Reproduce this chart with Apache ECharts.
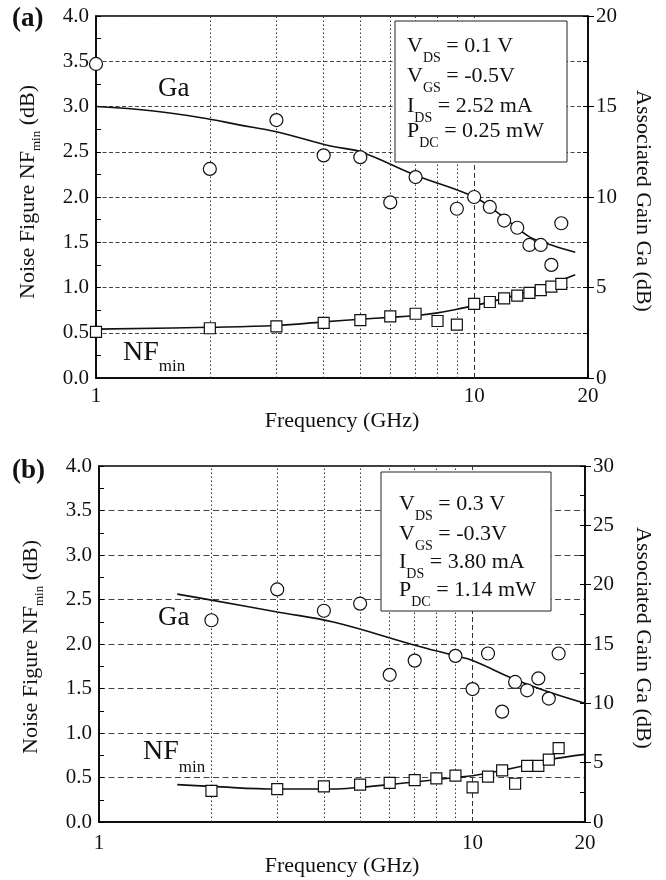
<!DOCTYPE html>
<html>
<head>
<meta charset="utf-8">
<script src="https://cdn.jsdelivr.net/npm/echarts@6/dist/echarts.min.js"></script>
<style>html,body{margin:0;padding:0;background:#fff}#c{width:666px;height:880px}</style>
</head>
<body>
<div id="c"></div>
<script>
// ---------- data (panel a) ----------
const nfFreqA = [1,2,3,4,5,6,7,8,9,10,11,12,13,14,15,16,17];
const nfA     = [0.51,0.55,0.57,0.61,0.64,0.68,0.71,0.63,0.59,0.82,0.84,0.88,0.91,0.94,0.97,1.01,1.04];
const gaFreqA = [1,2,3,4,5,6,7,9,10,11,12,13,14,15,16,17];
const gaA     = [17.35,11.55,14.25,12.3,12.2,9.7,11.1,9.35,10.0,9.45,8.7,8.3,7.35,7.35,6.25,8.55];
const nfFitFreqA = [1,2,3,4,5,6,7,8,9,10,12,14,16,18.5];
const nfFitA     = [0.54,0.56,0.58,0.62,0.65,0.67,0.69,0.72,0.76,0.80,0.88,0.96,1.04,1.14];
const gaFitFreqA = [1,1.42,2,2.37,3,4.2,5,7,10,11.6,14,16,18.5];
const gaFitA     = [15.0,14.75,14.3,14.0,13.6,12.8,12.5,11.2,10.0,9.1,7.8,7.35,6.95];
// ---------- data (panel b) ----------
const nfFreqB = [2,3,4,5,6,7,8,9,10,11,12,13,14,15,16,17];
const nfB     = [0.35,0.37,0.40,0.42,0.44,0.47,0.49,0.52,0.39,0.51,0.58,0.43,0.63,0.63,0.70,0.83];
const gaFreqB = [2,3,4,5,6,7,9,10,11,12,13,14,15,16,17];
const gaB     = [17.0,19.6,17.8,18.4,12.4,13.6,14.0,11.2,14.2,9.3,11.8,11.1,12.1,10.4,14.2];
const nfFitFreqB = [1.62,2,3,4.24,5,6,7,9,10,12,14,16,20];
const nfFitB     = [0.42,0.40,0.37,0.37,0.39,0.42,0.45,0.50,0.52,0.58,0.64,0.70,0.76];
const gaFitFreqB = [1.62,2,3,4.24,7,9,10,13,16,20];
const gaFitB     = [19.2,18.7,17.7,16.85,14.9,14.0,13.6,12.0,10.95,10.0];
// ---------- axes ----------
const nfTicks = [0,0.5,1,1.5,2,2.5,3,3.5,4];
const gaMaxA = 20, gaMaxB = 30;
const xMin = 1, xMax = 20;
const gridFreqs = [2,3,4,5,6,7,8,9];

const FONT = '"Liberation Serif","Times New Roman",serif';
const zip = (a,b) => a.map((v,i)=>[v,b[i]]);

const ctx = document.createElement('canvas').getContext('2d');
function tw(s, size, weight){ ctx.font = (weight||'normal')+' '+size+'px "Liberation Serif"'; return ctx.measureText(s).width; }
function lineParts(parts, M, S, dy, z){
  const ch=[]; let cx=0;
  parts.forEach(p=>{
    const sub=p[1]; const size = sub?S:M;
    ch.push({type:'text', x:cx, y: sub?dy:0, silent:true, z:z||5,
      style:{text:p[0], font: size+'px '+FONT, fill:'#111', verticalAlign:'middle', align:'left'}});
    cx += tw(p[0], size);
  });
  return {children:ch, width:cx};
}
function textLine(x,y,parts,M,S,dy,z){
  const r=lineParts(parts,M,S,dy,z);
  return {type:'group', x:x, y:y, children:r.children};
}
function vTitle(xc, yc, parts, M, S, dy, dir){
  const r=lineParts(parts,M,S,dy);
  const L=r.width;
  return {type:'group', x:xc, y: dir>0 ? yc+L/2 : yc-L/2, rotation: dir>0?Math.PI/2:-Math.PI/2, children:r.children};
}

function makeX(gridIndex){
  return {type:'log', logBase:10, min:xMin, max:xMax, gridIndex:gridIndex,
    axisLine:{show:true, lineStyle:{color:'#000', width:1.5}},
    axisTick:{show:true, inside:true, length:5, lineStyle:{color:'#000'}},
    axisLabel:{color:'#111', fontFamily:FONT, fontSize:21, margin: gridIndex===0?8:11},
    splitLine:{show:false}, minorTick:{show:false},
    name:'Frequency (GHz)', nameLocation:'middle', nameGap: gridIndex===0?32:29,
    nameTextStyle:{color:'#111', fontFamily:FONT, fontSize:22}};
}
function makeLeft(gridIndex, dash){
  return {type:'value', gridIndex:gridIndex, position:'left', min:0, max:4, interval:0.5,
    axisLine:{show:true, lineStyle:{color:'#000', width:1.5}},
    axisTick:{show:true, inside:true, length:5, lineStyle:{color:'#000'}},
    minorTick:{show:true, splitNumber:2, length:5, lineStyle:{color:'#000'}},
    axisLabel:{color:'#111', fontFamily:FONT, fontSize:21, margin:7, formatter:v=>v.toFixed(1)},
    splitLine:{show:true, lineStyle:{color:'#444', width:1, type:dash}}};
}
function makeRight(gridIndex, max){
  return {type:'value', gridIndex:gridIndex, position:'right', min:0, max:max, interval:5,
    axisLine:{show:true, lineStyle:{color:'#000', width:1.5}},
    axisTick:{show:true, inside:false, length:6, lineStyle:{color:'#000'}},
    axisLabel:{color:'#111', fontFamily:FONT, fontSize:21, margin:8},
    splitLine:{show:false}};
}
function makeRightMinor(gridIndex, max){
  return {type:'value', gridIndex:gridIndex, position:'right', min:0, max:max, interval:2.5,
    axisLine:{show:false}, axisTick:{show:true, inside:true, length:5, lineStyle:{color:'#000'}},
    axisLabel:{show:false}, splitLine:{show:false}};
}
function vGrid(){
  const d = gridFreqs.map(f=>({xAxis:f, lineStyle:{type:[1.5,2.5], color:'#333', width:1}}));
  d.push({xAxis:10, lineStyle:{type:[5,3], color:'#333', width:1}});
  return {symbol:['none','none'], silent:true, label:{show:false}, animation:false, data:d};
}
function scat(xi, yi, data, sym, size){
  return {type:'scatter', xAxisIndex:xi, yAxisIndex:yi, data:data, symbol:sym, symbolSize:size,
    itemStyle:{color:'#fff', borderColor:'#111', borderWidth:1.2, opacity:1}, z:6, silent:true};
}
function fit(xi, yi, data){
  return {type:'line', xAxisIndex:xi, yAxisIndex:yi, data:data, smooth:0.4, showSymbol:false,
    lineStyle:{color:'#111', width:1.6}, z:3, silent:true};
}

const graphics = [];
// panel labels
graphics.push({type:'text', x:12, y:19, style:{text:'(a)', font:'bold 27px '+FONT, fill:'#111', verticalAlign:'middle'}});
graphics.push({type:'text', x:12, y:471, style:{text:'(b)', font:'bold 27px '+FONT, fill:'#111', verticalAlign:'middle'}});
// curve labels
graphics.push({type:'text', x:158, y:89, style:{text:'Ga', font:'27px '+FONT, fill:'#111', verticalAlign:'middle'}});
graphics.push(textLine(123, 352.5, [['NF',0],['min',1]], 28, 17, 14.5));
graphics.push({type:'text', x:158, y:618, style:{text:'Ga', font:'27px '+FONT, fill:'#111', verticalAlign:'middle'}});
graphics.push(textLine(143, 751.5, [['NF',0],['min',1]], 28, 17, 16.5));
// boxes
graphics.push({type:'rect', shape:{x:395, y:21, width:172, height:141}, style:{fill:'#fff', stroke:'#222', lineWidth:1}, z:10});
graphics.push({type:'rect', shape:{x:381, y:472, width:170, height:139}, style:{fill:'#fff', stroke:'#222', lineWidth:1}, z:10});
const boxA = [
  [['V',0],['DS',1],[' = 0.1 V',0]],
  [['V',0],['GS',1],[' = -0.5V',0]],
  [['I',0],['DS',1],[' = 2.52 mA',0]],
  [['P',0],['DC',1],[' = 0.25 mW',0]]];
const boxB = [
  [['V',0],['DS',1],[' = 0.3 V',0]],
  [['V',0],['GS',1],[' = -0.3V',0]],
  [['I',0],['DS',1],[' = 3.80 mA',0]],
  [['P',0],['DC',1],[' = 1.14 mW',0]]];
const boxAy = [46,76.5,106,131], boxBy=[504.5,534.5,562.5,590.5];
boxA.forEach((p,i)=>{ graphics.push(textLine(407, boxAy[i], p, 22, 14, 12, 11)); });
boxB.forEach((p,i)=>{ graphics.push(textLine(399, boxBy[i], p, 22, 14, 12, 11)); });
// axis titles
graphics.push(vTitle(28, 192, [['Noise Figure NF',0],['min',1],[' (dB)',0]], 22, 13, 9, 1));
graphics.push(vTitle(643, 201, [['Associated Gain Ga (dB)',0]], 22, 13, 9, -1));
graphics.push(vTitle(31, 647, [['Noise Figure NF',0],['min',1],[' (dB)',0]], 22, 13, 9, 1));
graphics.push(vTitle(643, 638, [['Associated Gain Ga (dB)',0]], 22, 13, 9, -1));

const nfFitSerA = fit(0,0, zip(nfFitFreqA,nfFitA)); nfFitSerA.markLine = vGrid();
const nfFitSerB = fit(1,3, zip(nfFitFreqB,nfFitB)); nfFitSerB.markLine = vGrid();

const option = {
  animation:false,
  backgroundColor:'#fff',
  textStyle:{fontFamily:FONT},
  grid:[
    {left:96, top:16, width:492, height:362, show:true, borderColor:'#000', borderWidth:1.5, containLabel:false},
    {left:99, top:466, width:486, height:356, show:true, borderColor:'#000', borderWidth:1.5, containLabel:false}
  ],
  xAxis:[makeX(0), makeX(1)],
  yAxis:[makeLeft(0,[4,2.5]), makeRight(0,gaMaxA), makeRightMinor(0,gaMaxA),
         makeLeft(1,[6,3.5]), makeRight(1,gaMaxB), makeRightMinor(1,gaMaxB)],
  series:[
    nfFitSerA,
    fit(0,1, zip(gaFitFreqA,gaFitA)),
    scat(0,0, zip(nfFreqA,nfA), 'rect', 11),
    scat(0,1, zip(gaFreqA,gaA), 'circle', 13),
    nfFitSerB,
    fit(1,4, zip(gaFitFreqB,gaFitB)),
    scat(1,3, zip(nfFreqB,nfB), 'rect', 11),
    scat(1,4, zip(gaFreqB,gaB), 'circle', 13)
  ],
  graphic:graphics
};
const chart = echarts.init(document.getElementById('c'), null, {renderer:'canvas'});
chart.setOption(option);
</script>
</body>
</html>
